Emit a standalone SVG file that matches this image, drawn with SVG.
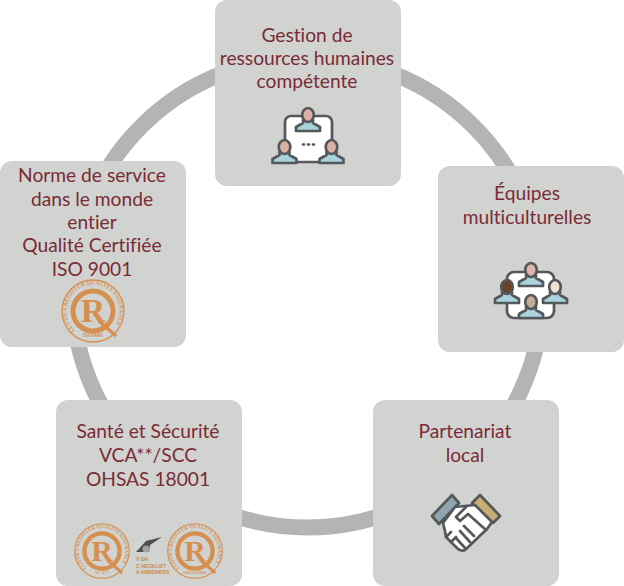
<svg xmlns="http://www.w3.org/2000/svg" width="624" height="586" viewBox="0 0 624 586">
<style>
.card{fill:#d1d3d0}
.t{font-family:Lato,"Open Sans",sans-serif;font-size:19.200px;fill:#7b2a36;text-anchor:middle;font-variant-ligatures:none}
.ic{stroke:#55585a;stroke-width:2.700;stroke-linejoin:round;stroke-linecap:round}
.body{fill:#a9d3dc}
.lg{fill:none;stroke:#d58f50}
.lt{font-family:"Liberation Serif",serif;font-weight:bold;fill:#d58f50}
.sm{font-family:"Liberation Sans",sans-serif;font-size:5px;font-weight:bold;fill:#c98a4e}
</style>
<defs>
<g id="person"><path class="ic body" d="M-12 11v-4l7-4v-3h10v3l7 4v4z"/><ellipse class="ic" cx="0" cy="-5" rx="5.800" ry="7"/></g>
<g id="logo">
<circle class="lg" r="31" stroke-width="1.300"/>
<circle class="lg" r="20" stroke-width="5"/>
<path id="arc" fill="none" d="M-18 19.500A26.500 26.500 0 1 1 18 19.500"/>
<text class="lt" font-size="5.600"><textPath href="#arc" textLength="119" lengthAdjust="spacing">LLOYD'S REGISTER QUALITY ASSURANCE</textPath></text>
<text class="lt" x="0" y="11" font-size="34" text-anchor="middle">R</text>
<path d="M6 10L23 25" class="lg" stroke-width="3.500"/>
</g>
</defs>
<g id="connectors"><circle cx="307.500" cy="292.500" r="235" fill="none" stroke="#b4b4b4" stroke-width="16"/></g>

<g id="node-top">
<rect class="card" x="215" y="0" width="186" height="186" rx="12"/>
<text class="t" x="307" y="42">Gestion de</text><text class="t" x="307" y="65">ressources humaines</text><text class="t" x="307" y="88">compétente</text>
<rect class="ic" x="285" y="116" width="47" height="46" rx="6" fill="#fff"/>
<use href="#person" x="308" y="120" fill="#dcb0a3"/>
<use href="#person" x="284.500" y="152" fill="#dcb0a3"/>
<use href="#person" x="331.500" y="152" fill="#dcb0a3"/>
<path d="M303 144.500h1M308 144.500h1M313 144.500h1" class="ic" stroke-width="2" fill="none"/>
</g>

<g id="node-right">
<rect class="card" x="438" y="166" width="186" height="186" rx="12"/>
<text class="t" x="527" y="200">Équipes</text><text class="t" x="527" y="224">multiculturelles</text>
<rect class="ic" x="507" y="272" width="47" height="46" rx="7" fill="#fff"/>
<use href="#person" x="531" y="275" fill="#dcb5ac"/>
<use href="#person" x="507" y="292" fill="#6b4226"/>
<use href="#person" x="555" y="292" fill="#efe3d0"/>
<use href="#person" x="531" y="307" fill="#c2ae97"/>
</g>

<g id="node-bottom-right">
<rect class="card" x="373" y="400" width="186" height="186" rx="12"/>
<text class="t" x="465" y="438">Partenariat</text><text class="t" x="465" y="462">local</text>
<path class="ic" d="M432 516L452 495L459 503L439 524z" fill="#8fa3b1"/>
<path class="ic" d="M500 516L480 495L472 503L493 523z" fill="#c8ae72"/>
<path class="ic" fill="#fff" d="M443 523L455 507L475 505L492 522L487 529L465 550Q461 552 457 548L446 537Q445 530 443 523z"/>
<path class="ic" fill="none" d="M466 507L456 517L460 521L468 514L486 530M474 536L464 526M470 542L460 531M465 548L456 538M446 537L451 532M451 542L456 537"/>
</g>

<g id="node-bottom-left">
<rect class="card" x="56" y="400" width="186" height="186" rx="12"/>
<text class="t" x="148" y="438">Santé et Sécurité</text><text class="t" x="148" y="462">VCA**/SCC</text><text class="t" x="148" y="486">OHSAS 18001</text>
<use href="#logo" transform="translate(102 551) scale(.88)"/>
<text class="lt" font-size="4.500" x="102" y="574" text-anchor="middle">VCA**</text>
<use href="#logo" transform="translate(195 551) scale(.88)"/>
<text class="lt" font-size="4" x="195" y="574" text-anchor="middle">OHSAS18001</text>
<path d="M136 552L146 541L162 537L150 545L149 552z" fill="#4d4f50"/>
<circle cx="146" cy="549" r="3.500" fill="#a0a2a2"/>
<text class="sm" x="136" y="561">V OH</text>
<text class="sm" x="136" y="568">C HECKLIST</text>
<text class="sm" x="136" y="574">A ANNEMERS</text>
</g>

<g id="node-left">
<rect class="card" x="0" y="161" width="186" height="186" rx="12"/>
<text class="t" x="92" y="182">Norme de service</text><text class="t" x="92" y="206">dans le monde</text><text class="t" x="92" y="229">entier</text><text class="t" x="92" y="252">Qualité Certifiée</text><text class="t" x="92" y="276">ISO 9001</text>
<use href="#logo" transform="translate(93 311)"/>
<text class="lt" font-size="5.500" x="93" y="337" text-anchor="middle">ISO9001</text>
</g>
</svg>
